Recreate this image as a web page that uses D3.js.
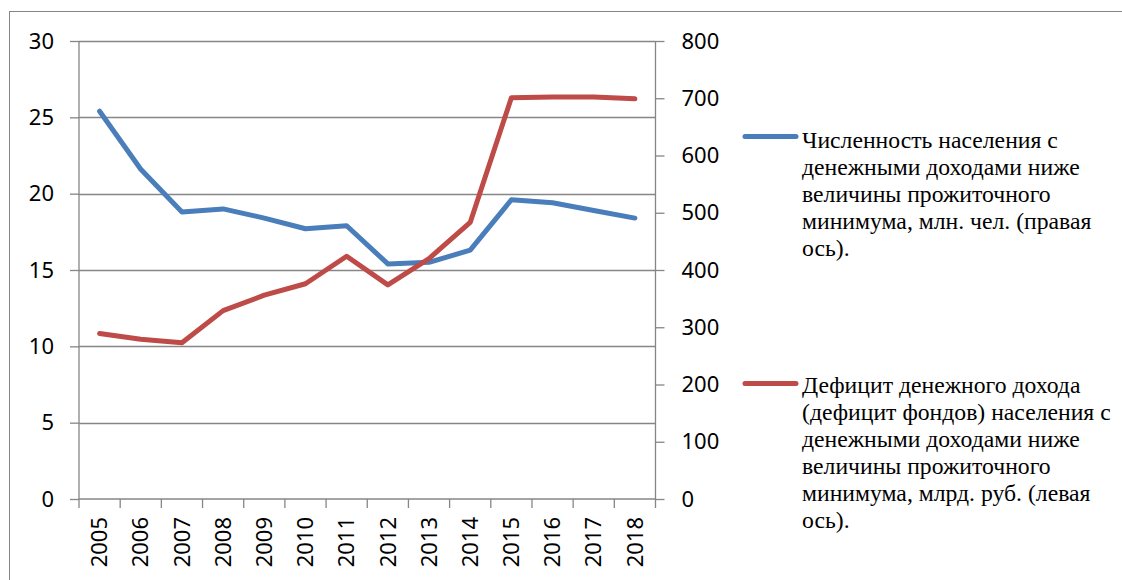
<!DOCTYPE html>
<html>
<head>
<meta charset="utf-8">
<script src="https://cdn.jsdelivr.net/npm/d3@7"></script>
<style>
  body { margin: 0; background: #fff; overflow: hidden; }
  svg { display: block; }
</style>
</head>
<body>
<div id="chart"></div>
<script>
// Годы (категории оси X)
const years = ["2005", "2006", "2007", "2008", "2009", "2010", "2011",
               "2012", "2013", "2014", "2015", "2016", "2017", "2018"];

// Численность населения за чертой бедности, млн чел. (рисуется по левой оси)
const population = [25.4, 21.6, 18.8, 19.0, 18.4, 17.7, 17.9,
                    15.4, 15.5, 16.3, 19.6, 19.4, 18.9, 18.4];

// Дефицит денежного дохода, млрд руб. (рисуется по правой оси)
const deficit = [289, 279, 273, 329, 356, 376, 424,
                 374, 420, 483, 701, 702, 702, 699];

// Подписи делений
const leftTicks = [0, 5, 10, 15, 20, 25, 30];
const rightTicks = [0, 100, 200, 300, 400, 500, 600, 700, 800];

// Тексты легенды
const legendBlue = ["Численность населения с", "денежными доходами ниже",
  "величины прожиточного", "минимума, млн. чел. (правая", "ось)."];
const legendRed = ["Дефицит денежного дохода", "(дефицит фондов) населения с",
  "денежными доходами ниже", "величины прожиточного",
  "минимума, млрд. руб. (левая", "ось)."];

const W = 1122, H = 580;
const plot = { left: 79, right: 655.5, top: 41, bottom: 499 };
const gridColor = "#868686";
const blue = "#4A7EBB", red = "#BE4B48";

let svg = d3.select("#chart").append("svg")
    .attr("width", W).attr("height", H);

// Рамка диаграммы
svg.append("rect")
    .attr("x", 9.5).attr("y", 11.5)
    .attr("width", 1300).attr("height", 800)
    .attr("fill", "none").attr("stroke", gridColor).attr("stroke-width", 1);

let x = d3.scaleBand().domain(years).range([plot.left, plot.right]);
let yL = d3.scaleLinear().domain([0, 30]).range([plot.bottom, plot.top]);
let yR = d3.scaleLinear().domain([0, 800]).range([plot.bottom, plot.top]);

// Сетка по левой оси
svg.append("g")
    .selectAll("line")
    .data(leftTicks.filter(d => d > 0))
    .join("line")
    .attr("x1", plot.left).attr("x2", plot.right)
    .attr("y1", d => Math.round(yL(d)) + 0.5).attr("y2", d => Math.round(yL(d)) + 0.5)
    .attr("stroke", gridColor).attr("stroke-width", 1.3);

// Левая ось
let axL = svg.append("g")
    .attr("transform", `translate(${plot.left},0)`)
    .call(d3.axisLeft(yL).tickValues(leftTicks).tickSize(9).tickPadding(16));

// Правая ось
let axR = svg.append("g")
    .attr("transform", `translate(${plot.right},0)`)
    .call(d3.axisRight(yR).tickValues(rightTicks).tickSize(9).tickPadding(17));

// Нижняя ось: деления на границах категорий
let axB = svg.append("g")
    .attr("transform", `translate(0,${plot.bottom})`)
    .call(d3.axisBottom(x).tickSize(0).tickPadding(18));

axB.selectAll("text")
    .attr("transform", "rotate(-90)")
    .attr("text-anchor", "end")
    .attr("x", -18).attr("y", 0)
    .attr("dy", "0.35em");

svg.append("g")
    .selectAll("line")
    .data(years.concat(["end"]))
    .join("line")
    .attr("x1", (d, i) => plot.left + i * x.step())
    .attr("x2", (d, i) => plot.left + i * x.step())
    .attr("y1", plot.bottom).attr("y2", plot.bottom + 9)
    .attr("stroke", gridColor).attr("stroke-width", 1.3);

[axL, axR, axB].forEach(g => {
    g.selectAll(".domain").attr("stroke", gridColor).attr("stroke-width", 1.3);
    g.selectAll(".tick line").attr("stroke", gridColor).attr("stroke-width", 1.3);
    g.selectAll("text")
        .style("font-family", "'Noto Sans', sans-serif")
        .style("font-size", "22px")
        .attr("fill", "#000");
});
axB.select(".domain").attr("d", `M${plot.left},0H${plot.right}`);
axL.select(".domain").attr("d", `M0,${plot.bottom}V${plot.top}`);
axR.select(".domain").attr("d", `M0,${plot.bottom}V${plot.top}`);

// Линии данных
let cx = d => x(d) + x.bandwidth() / 2;

svg.append("path")
    .datum(population)
    .attr("fill", "none").attr("stroke", blue)
    .attr("stroke-width", 5).attr("stroke-linecap", "round").attr("stroke-linejoin", "round")
    .attr("d", d3.line().x((d, i) => cx(years[i])).y(d => yL(d)));

svg.append("path")
    .datum(deficit)
    .attr("fill", "none").attr("stroke", red)
    .attr("stroke-width", 5).attr("stroke-linecap", "round").attr("stroke-linejoin", "round")
    .attr("d", d3.line().x((d, i) => cx(years[i])).y(d => yR(d)));

// Легенда
function legendItem(lines, color, baseY, lineY) {
    let g = svg.append("g");
    g.append("line")
        .attr("x1", 745).attr("x2", 796)
        .attr("y1", lineY).attr("y2", lineY)
        .attr("stroke", color).attr("stroke-width", 5).attr("stroke-linecap", "round");
    g.selectAll("text")
        .data(lines)
        .join("text")
        .attr("x", 802)
        .attr("y", (d, i) => baseY + i * 27)
        .style("font-family", "'Liberation Serif', 'Times New Roman', serif")
        .style("font-size", "23.7px")
        .attr("fill", "#000")
        .text(d => d);
}
legendItem(legendBlue, blue, 148, 136.5);
legendItem(legendRed, red, 393, 383.5);
</script>
</body>
</html>
